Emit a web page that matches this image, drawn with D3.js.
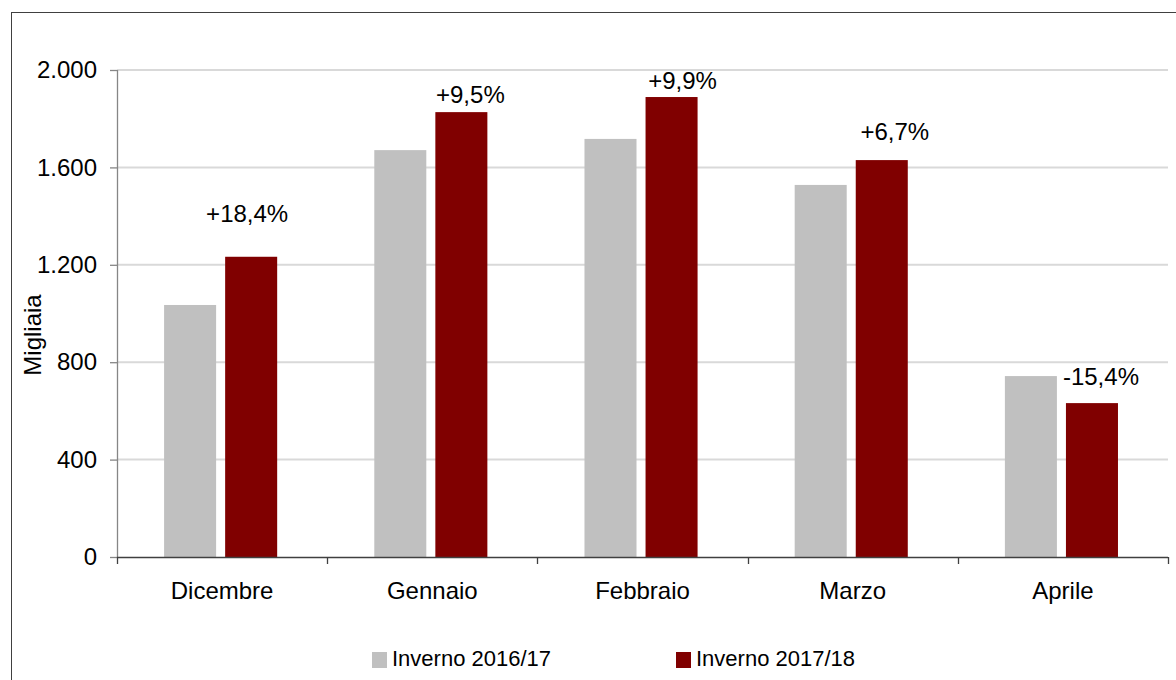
<!DOCTYPE html>
<html lang="it">
  <head>
    <meta charset="utf-8" />
    <script src="https://d3js.org/d3.v7.min.js" charset="utf-8"></script>
  </head>

  <style>
    body {
      margin: 0;
      background: #fff;
      font-family: 'Liberation Sans', Arial, sans-serif;
    }
    .axis text {
      font-size: 24px;
      fill: #000;
    }
  </style>

  <body>
    <div id="plot-container"></div>

    <script type="text/javascript">
      // data //--------------------------------------------------------
      var months = ['Dicembre', 'Gennaio', 'Febbraio', 'Marzo', 'Aprile'];
      var series = ['Inverno 2016/17', 'Inverno 2017/18'];
      var winter1617 = [1035, 1671, 1717, 1528, 743];
      var winter1718 = [1233, 1827, 1889, 1630, 632];
      var changeLabels = ['+18,4%', '+9,5%', '+9,9%', '+6,7%', '-15,4%'];
      // height (in thousands) at which each change label sits
      var labelLevels = [1376, 1864, 1922, 1712, 706];
      var yTicks = [0, 400, 800, 1200, 1600, 2000];
      var colors = ['#c0c0c0', '#800000'];

      // layout //------------------------------------------------------
      var W = 1176, H = 680;
      var plotLeft = 117, plotRight = 1168, plotTop = 70, plotBottom = 557;
      var labelDx = [-4, 9, 11, 13, 9];

      var svg = d3
        .select('#plot-container')
        .append('svg')
        .attr('width', W)
        .attr('height', H);

      // outer frame (runs off the right and bottom edges)
      svg
        .append('rect')
        .attr('x', 11.5)
        .attr('y', 12.5)
        .attr('width', W)
        .attr('height', H)
        .attr('fill', 'none')
        .attr('stroke', '#404040')
        .attr('stroke-width', 1);

      // scales
      var x0 = d3.scaleBand().domain(months).range([plotLeft, plotRight]);
      var bw = x0.bandwidth();
      var x1 = d3
        .scaleBand()
        .domain(series)
        .range([bw * 0.224, bw * 0.762])
        .paddingInner(0.148);
      var y = d3.scaleLinear().domain([0, 2000]).range([plotBottom, plotTop]);

      // gridlines
      svg
        .append('g')
        .selectAll('line')
        .data(yTicks.filter((d) => d > 0))
        .join('line')
        .attr('x1', plotLeft)
        .attr('x2', plotRight)
        .attr('y1', (d) => y(d))
        .attr('y2', (d) => y(d))
        .attr('stroke', '#d9d9d9')
        .attr('stroke-width', 2);

      // y axis
      var fmt = (d) => d3.format(',')(d).replace(/,/g, '.');
      var yAxis = svg
        .append('g')
        .attr('class', 'axis')
        .attr('transform', `translate(${plotLeft},0)`)
        .call(d3.axisLeft(y).tickValues(yTicks).tickFormat(fmt).tickSize(7).tickPadding(13));
      yAxis.selectAll('path, line').attr('stroke', '#868686').attr('stroke-width', 1.3);
      yAxis.select('.domain').attr('d', `M0.5,${plotTop}V${plotBottom}`);
      yAxis.selectAll('text').attr('font-family', "'Liberation Sans', Arial, sans-serif");

      // y axis title
      svg
        .append('text')
        .attr('transform', `translate(41,335) rotate(-90)`)
        .attr('text-anchor', 'middle')
        .attr('font-size', 24)
        .text('Migliaia');

      // bars
      var seriesValues = [winter1617, winter1718];
      var groups = svg
        .append('g')
        .selectAll('g')
        .data(months)
        .join('g')
        .attr('transform', (d) => `translate(${x0(d)},0)`);

      groups
        .selectAll('rect')
        .data((m, i) => series.map((s, j) => ({ s: s, v: seriesValues[j][i], j: j })))
        .join('rect')
        .attr('x', (d) => x1(d.s))
        .attr('width', x1.bandwidth())
        .attr('y', (d) => y(d.v))
        .attr('height', (d) => y(0) - y(d.v))
        .attr('fill', (d) => colors[d.j]);

      // change labels above the 2017/18 bars
      svg
        .append('g')
        .selectAll('text')
        .data(months)
        .join('text')
        .attr('x', (d, i) => x0(d) + x1(series[1]) + x1.bandwidth() / 2 + labelDx[i])
        .attr('y', (d, i) => y(labelLevels[i]))
        .attr('text-anchor', 'middle')
        .attr('font-size', 24)
        .text((d, i) => changeLabels[i]);

      // x axis
      var xAxis = svg
        .append('g')
        .attr('class', 'axis')
        .attr('transform', `translate(0,${plotBottom})`)
        .call(d3.axisBottom(x0).tickSize(0).tickPadding(25));
      xAxis.select('.domain').attr('stroke', '#404040').attr('stroke-width', 1.5)
        .attr('d', `M${plotLeft},0.5H${plotRight}`);
      xAxis.selectAll('text').attr('dy', '0.71em');
      // boundary ticks between categories
      xAxis
        .selectAll('.bound')
        .data(months.map((m) => x0(m)).concat([plotRight]))
        .join('line')
        .attr('class', 'bound')
        .attr('x1', (d) => Math.round(d) + 0.5)
        .attr('x2', (d) => Math.round(d) + 0.5)
        .attr('y1', 0)
        .attr('y2', 7)
        .attr('stroke', '#404040')
        .attr('stroke-width', 1.3);

      // legend
      var legendX = [372, 676];
      var legend = svg
        .append('g')
        .selectAll('g')
        .data(series)
        .join('g')
        .attr('transform', (d, i) => `translate(${legendX[i]},652)`);
      legend
        .append('rect')
        .attr('width', 15)
        .attr('height', 16)
        .attr('fill', (d, i) => colors[i]);
      legend
        .append('text')
        .attr('x', 20)
        .attr('y', 14)
        .attr('font-size', 22)
        .text((d) => d);
    </script>
  </body>
</html>
